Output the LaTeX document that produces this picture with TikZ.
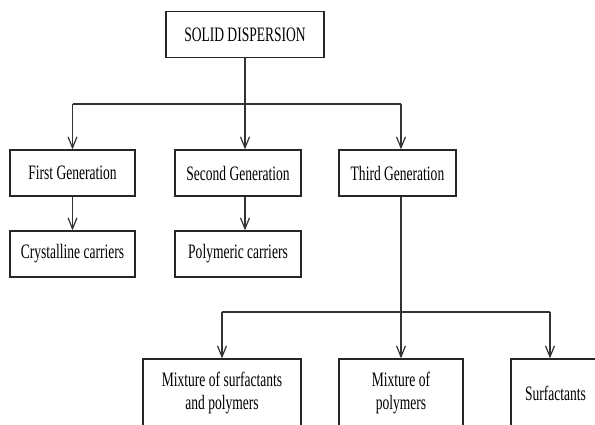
\documentclass[tikz,border=0pt]{standalone}
\usepackage{fontspec}
\setmainfont{Liberation Serif}[FakeStretch=0.66]
\usetikzlibrary{positioning,arrows.meta}

\begin{document}
\begin{tikzpicture}[x=1pt,y=-1pt,
    box/.style={draw=black!85,line width=1.3pt,minimum height=46pt,inner sep=2pt,align=center,font=\fontsize{20.5}{23}\selectfont},
    link/.style={draw=black!80,line width=1.2pt},
    arr/.style={link,-{Straight Barb[length=11pt,width=9pt,line width=1.2pt]}}]
    \useasboundingbox (0,0) rectangle (595,425);
    \clip (0,0) rectangle (595,425);
    \node[box,minimum width=158pt] (sd) at (245,34.5) {SOLID DISPERSION};
    \node[box,minimum width=125pt] (gen1) at (72.5,173) {First Generation};
    \node[box,minimum width=126pt] (gen2) at (238,173) {Second Generation};
    \node[box,minimum width=117pt] (gen3) at (397.5,173) {Third Generation};
    \node[box,minimum width=125pt] (car1) at (72.5,254) {Crystalline carriers};
    \node[box,minimum width=126pt] (car2) at (238,254) {Polymeric carriers};
    \node[box,minimum width=158pt,minimum height=68pt] (mix1) at (222,393) {Mixture of surfactants\\and polymers};
    \node[box,minimum width=124pt,minimum height=68pt] (mix2) at (401,393) {Mixture of\\polymers};
    \node[box,minimum width=89pt,minimum height=68pt] (surf) at (555.5,393) {Surfactants};
    % forks
    \coordinate (j1) at (245,104);
    \coordinate (j2) at (401,312);
    \coordinate (j3) at (550,312);
    \draw[link] (sd.south) -- (j1);
    \draw[link] (gen1 |- j1) -- (j2 |- j1);
    \foreach \c/\n in {gen1/gen1,j1/gen2,j2/gen3} \draw[arr] (\c |- j1) -- (\c |- \n.north);
    \draw[arr] (gen1.south) -- (car1.north);
    \draw[arr] (j1 |- gen2.south) -- (j1 |- car2.north);
    \draw[link] (j2 |- gen3.south) -- (j2);
    \draw[link] (mix1 |- j2) -- (j3);
    \foreach \c/\n in {mix1/mix1,j2/mix2,j3/surf} \draw[arr] (\c |- j2) -- (\c |- \n.north);
\end{tikzpicture}
\end{document}
